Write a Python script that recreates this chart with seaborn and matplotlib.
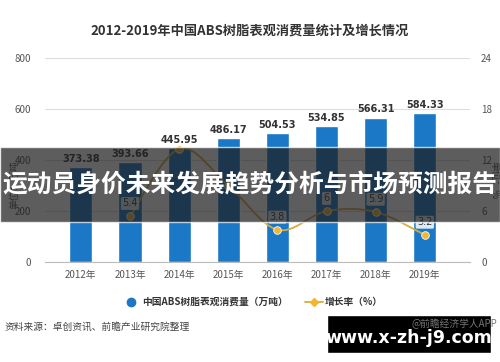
import numpy as np
import pandas as pd
import matplotlib
matplotlib.use("Agg")
import matplotlib.pyplot as plt
import seaborn as sns
from matplotlib.path import Path
from matplotlib.patches import PathPatch, Rectangle

# chart data
years = ['2012年', '2013年', '2014年', '2015年', '2016年', '2017年', '2018年', '2019年']
consumption = [373.38, 393.66, 445.95, 486.17, 504.53, 534.85, 566.31, 584.33]
growth_years = ['2013年', '2014年', '2015年', '2016年', '2017年', '2018年', '2019年']
growth_rate = [5.4, 13.3, 9.0, 3.8, 6.0, 5.9, 3.2]
growth_labels = ['5.4', '', '', '3.8', '6', '5.9', '3.2']
left_ticks = [0, 200, 400, 600, 800]
right_ticks = [0, 6, 12, 18, 24]

BAR_COLOR = '#1a78c6'
LINE_COLOR = '#d9aa3c'
MARK_COLOR = '#f2b632'
TEXT_GRAY = '#555555'


def smooth_path(xs, ys, tension=0.5):
    """Catmull-Rom style bezier path through the data points."""
    pts = np.column_stack([xs, ys])
    verts = [tuple(pts[0])]
    codes = [Path.MOVETO]
    n = len(pts)
    for i in range(n - 1):
        p0 = pts[i - 1] if i > 0 else pts[i]
        p1 = pts[i]
        p2 = pts[i + 1]
        p3 = pts[i + 2] if i + 2 < n else pts[i + 1]
        c1 = p1 + (p2 - p0) * tension / 3
        c2 = p2 - (p3 - p1) * tension / 3
        verts += [tuple(c1), tuple(c2), tuple(p2)]
        codes += [Path.CURVE4] * 3
    return Path(verts, codes)


def main():
    sns.set_style('white')
    plt.rcParams['font.family'] = ['Noto Sans CJK SC', 'DejaVu Sans']

    df = pd.DataFrame({'year': years, 'value': consumption})

    fig = plt.figure(figsize=(5, 3.62), dpi=100)
    ax = fig.add_axes([0.09, 0.276, 0.85, 0.564])

    sns.barplot(data=df, x='year', y='value', color=BAR_COLOR, width=0.47,
                saturation=1, ax=ax)
    ax.set_xlim(-0.73, 7.92)
    ax.set_ylim(0, 800)
    ax.set_yticks(left_ticks)
    ax.yaxis.grid(True, color='#dddddd', linewidth=0.8)
    ax.set_axisbelow(True)
    for s in ['top', 'right', 'left']:
        ax.spines[s].set_visible(False)
    ax.spines['bottom'].set_color('#bbbbbb')
    ax.tick_params(axis='y', length=0, labelsize=7, labelcolor=TEXT_GRAY, pad=10)
    ax.tick_params(axis='x', length=3, color='#bbbbbb', labelsize=7,
                   labelcolor=TEXT_GRAY, pad=3)
    ax.set_xlabel('')
    ax.set_ylabel('单位：万吨', fontsize=7, color=TEXT_GRAY, labelpad=2)
    ax.yaxis.set_label_coords(-0.06, 0.38)

    for i, v in enumerate(consumption):
        ax.text(i, v + 12, f'{v:.2f}', ha='center', va='bottom', fontsize=7,
                fontweight='bold', color='#333333', family='DejaVu Sans')

    # growth rate on secondary axis
    ax2 = ax.twinx()
    ax2.set_ylim(0, 24)
    ax2.set_yticks(right_ticks)
    ax2.tick_params(axis='y', length=0, labelsize=7, labelcolor=TEXT_GRAY, pad=8)
    for s in ax2.spines.values():
        s.set_visible(False)
    ax2.set_ylabel('单位：%', fontsize=7, color=TEXT_GRAY, rotation=-90, labelpad=4)
    ax2.yaxis.set_label_coords(1.07, 0.4)

    gx = [years.index(y) for y in growth_years]
    ax2.add_patch(PathPatch(smooth_path(gx, growth_rate), facecolor='none',
                            edgecolor=LINE_COLOR, linewidth=1.3, zorder=3))
    sns.scatterplot(x=gx, y=growth_rate, color=MARK_COLOR, s=30,
                    edgecolor='white', linewidth=0.6, zorder=4, ax=ax2)
    for x, v, lab in zip(gx, growth_rate, growth_labels):
        if lab:
            ax2.text(x, v + 0.9, lab, ha='center', va='bottom', fontsize=7,
                     color='#333333', family='DejaVu Sans',
                     bbox=dict(boxstyle='round,pad=0.15', fc='white', ec='none', alpha=0.85))
    ax2.set_xlim(-0.73, 7.92)

    # title
    fig.text(0.5, 0.915, '2012-2019年中国ABS树脂表观消费量统计及增长情况',
             ha='center', va='center', fontsize=9.5, fontweight='bold', color='#333333')

    # legend
    fig.lines.append(plt.Line2D([0.262], [0.166], marker='o', markersize=6,
                                color=BAR_COLOR, linestyle='none', transform=fig.transFigure))
    fig.text(0.285, 0.166, '中国ABS树脂表观消费量（万吨）', ha='left', va='center',
             fontsize=7, color='#333333', fontweight='bold')
    fig.lines.append(plt.Line2D([0.61, 0.645], [0.166, 0.166], color=LINE_COLOR,
                                linewidth=1.3, transform=fig.transFigure))
    fig.lines.append(plt.Line2D([0.627], [0.166], marker='D', markersize=4,
                                color=MARK_COLOR, linestyle='none', transform=fig.transFigure))
    fig.text(0.65, 0.166, '增长率（%）', ha='left', va='center', fontsize=7,
             color='#333333', fontweight='bold')

    # source line
    fig.text(0.01, 0.097, '资料来源：卓创资讯、前瞻产业研究院整理', ha='left', va='center',
             fontsize=7, color='#444444')
    fig.text(0.995, 1 - 324 / 362, '@前瞻经济学人APP', ha='right', va='center',
             fontsize=7, color='#777777', zorder=12)

    # overlay banner
    fig.patches.append(Rectangle((0, 1 - 222 / 362), 1, 75 / 362, transform=fig.transFigure,
                                 facecolor='#1e1e1e', alpha=0.72, zorder=10))
    fig.text(0.5, 1 - 185 / 362, '运动员身价未来发展趋势分析与市场预测报告', ha='center',
             va='center', fontsize=17.8, fontweight='bold', color='white', zorder=11)

    # watermark box bottom right
    fig.patches.append(Rectangle((327 / 500, 1 - 353 / 362), 164 / 500, 38 / 362,
                                 transform=fig.transFigure, facecolor='black', zorder=10))
    fig.text(409 / 500, 1 - 338 / 362, 'www.x-zh-j9.com', ha='center', va='center',
             fontsize=12.5, fontweight='bold', color='white', family='DejaVu Sans', zorder=11)

    fig.savefig('out.png', dpi=100)


if __name__ == '__main__':
    main()
